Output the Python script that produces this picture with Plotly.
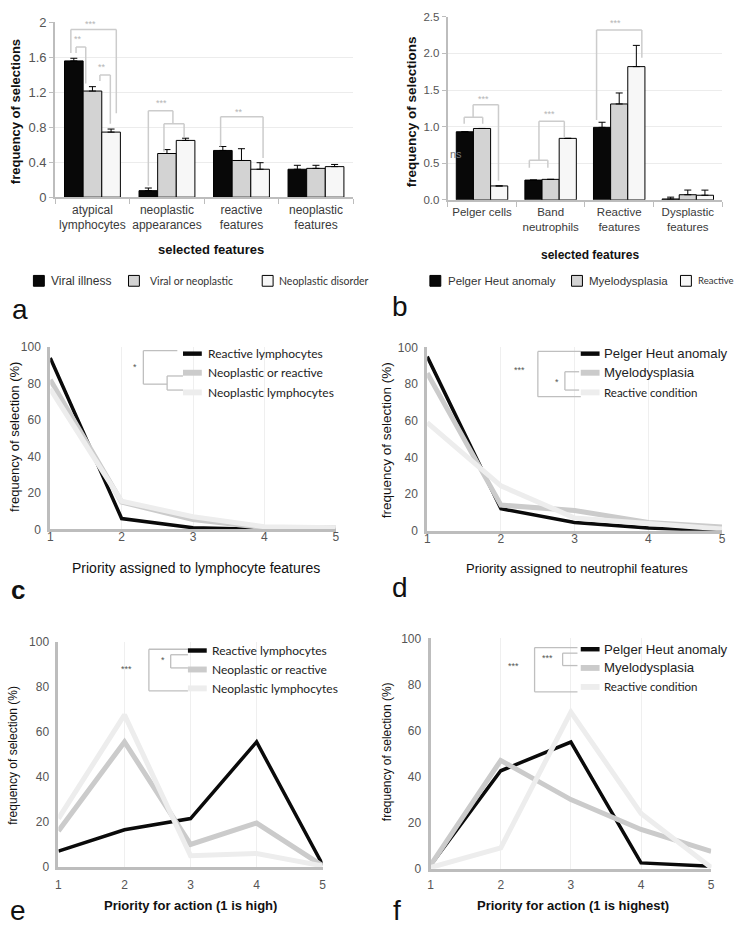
import plotly.graph_objects as go

W, H = 735, 935


def X(p):
    return p / W


def Y(p):
    return 1 - p / H


# ---------------- data ----------------
lym_categories = ["atypical<br>lymphocytes", "neoplastic<br>appearances", "reactive<br>features", "neoplastic<br>features"]
lym_groups = ["Viral illness", "Viral or neoplastic", "Neoplastic disorder"]
a_viral = [1.56, 0.075, 0.535, 0.32]
a_viral_or_neo = [1.215, 0.50, 0.42, 0.33]
a_neoplastic = [0.745, 0.65, 0.32, 0.35]
a_viral_err = [0.03, 0.03, 0.045, 0.045]
a_viral_or_neo_err = [0.05, 0.045, 0.135, 0.035]
a_neoplastic_err = [0.035, 0.025, 0.075, 0.025]
a_yticks = [0, 0.4, 0.8, 1.2, 1.6, 2]

neu_categories = ["Pelger cells", "Band<br>neutrophils", "Reactive<br>features", "Dysplastic<br>features"]
neu_groups = ["Pelger Heut anomaly", "Myelodysplasia", "Reactive"]
b_pelger = [0.93, 0.27, 0.99, 0.012]
b_myelo = [0.975, 0.28, 1.31, 0.07]
b_reactive = [0.19, 0.84, 1.82, 0.063]
b_pelger_err = [None, None, 0.07, 0.025]
b_myelo_err = [None, None, 0.15, 0.064]
b_reactive_err = [None, None, 0.29, 0.07]
b_yticks = [0, 0.5, 1.0, 1.5, 2.0, 2.5]

priority = [1, 2, 3, 4, 5]
lym_line_groups = ["Reactive lymphocytes", "Neoplastic or reactive", "Neoplastic lymphocytes"]
c_reactive = [94, 6, 1, 0, 0]
c_neo_or_reactive = [82, 15, 5.5, 1, 1]
c_neoplastic = [77, 15.5, 7, 1.5, 1]

neu_line_groups = ["Pelger Heut anomaly", "Myelodysplasia", "Reactive condition"]
d_pelger = [95, 12, 4.5, 1.5, 0]
d_myelo = [86, 14, 11, 4.5, 2]
d_reactive = [59, 24.5, 7, 4, 1]

e_reactive = [7, 16.5, 21.5, 55.5, 1]
e_neo_or_reactive = [16, 55.5, 10, 19.5, 0.5]
e_neoplastic = [21.5, 67.5, 5, 6, 0.5]

f_pelger = [1.5, 42.5, 55, 2.5, 1]
f_myelo = [1.5, 47, 30, 17, 7.5]
f_reactive = [0.5, 9, 68, 24, 0.5]

# ---------------- styles ----------------
HELV = "Liberation Sans, Arial, sans-serif"
CALI = "Lato, Liberation Sans, sans-serif"
BAR_COLORS = ["#080808", "#d3d3d3", "#f7f7f7"]
LINE_COLORS = ["#0a0a0a", "#cbcbcb", "#ededed"]
LINE_WIDTHS = [3.5, 5, 5]
AXIS_GREY = "#bdbdbd"
BRACKET = "#cccccc"

fig = go.Figure()


# ---------------- bar panels ----------------
def add_bars(values, errs, names, cats, xa, ya):
    for vals, err, name, col in zip(values, errs, names, BAR_COLORS):
        fig.add_trace(go.Bar(
            x=cats, y=vals, name=name, xaxis=xa, yaxis=ya, showlegend=False,
            marker=dict(color=col, line=dict(color="#000", width=1)),
            error_y=dict(type="data", array=err, symmetric=False,
                         arrayminus=[0] * len(vals), color="#000",
                         thickness=1, width=3.5),
        ))


add_bars([a_viral, a_viral_or_neo, a_neoplastic],
         [a_viral_err, a_viral_or_neo_err, a_neoplastic_err],
         lym_groups, lym_categories, "x", "y")
add_bars([b_pelger, b_myelo, b_reactive],
         [b_pelger_err, b_myelo_err, b_reactive_err],
         neu_groups, neu_categories, "x2", "y2")


# ---------------- line panels ----------------
def add_lines(series, names, xa, ya):
    for vals, name, col, w in zip(series, names, LINE_COLORS, LINE_WIDTHS):
        fig.add_trace(go.Scatter(
            x=priority, y=vals, name=name, mode="lines", xaxis=xa, yaxis=ya,
            showlegend=False, line=dict(color=col, width=w),
        ))


add_lines([c_reactive, c_neo_or_reactive, c_neoplastic], lym_line_groups, "x3", "y3")
add_lines([d_pelger, d_myelo, d_reactive], neu_line_groups, "x4", "y4")
add_lines([e_reactive, e_neo_or_reactive, e_neoplastic], lym_line_groups, "x5", "y5")
add_lines([f_pelger, f_myelo, f_reactive], neu_line_groups, "x6", "y6")


# ---------------- axes ----------------
def bar_xaxis(l, r, anchor, size, n):
    return dict(domain=[X(l), X(r)], anchor=anchor, type="category",
                range=[-0.5, n - 0.5], tickangle=0,
                showline=True, linecolor=AXIS_GREY, linewidth=2,
                ticks="outside", tickson="boundaries", ticklen=5, tickcolor=AXIS_GREY,
                showgrid=False, zeroline=False,
                tickfont=dict(family=HELV, size=size, color="#3a3a3a"))


def bar_yaxis(b, t, anchor, rng, vals, fmt, size):
    return dict(domain=[Y(b), Y(t)], anchor=anchor, range=rng,
                tickvals=vals, tickformat=fmt,
                showline=True, linecolor=AXIS_GREY, linewidth=2,
                ticks="outside", ticklen=4, tickcolor=AXIS_GREY,
                showgrid=True, gridcolor="#ececec", gridwidth=1, zeroline=False,
                tickfont=dict(family=HELV, size=size, color="#555"))


def line_xaxis(l, r, anchor, standoff):
    return dict(domain=[X(l), X(r)], anchor=anchor, range=[1, 5], tick0=1, dtick=1,
                showline=True, linecolor=AXIS_GREY, linewidth=3, ticks="",
                showgrid=True, gridcolor="#efefef", gridwidth=1, zeroline=False,
                ticklabelstandoff=standoff,
                tickfont=dict(family=HELV, size=12, color="#555"))


def line_yaxis(b, t, anchor):
    return dict(domain=[Y(b), Y(t)], anchor=anchor, range=[0, 100], dtick=20,
                showline=True, linecolor=AXIS_GREY, linewidth=3, ticks="",
                showgrid=False, zeroline=False, ticklabelstandoff=4,
                tickfont=dict(family=HELV, size=12, color="#555"))


fig.update_layout(
    width=W, height=H, margin=dict(l=0, r=0, t=0, b=0),
    paper_bgcolor="white", plot_bgcolor="rgba(0,0,0,0)",
    barmode="group", bargap=0.25, bargroupgap=0,
    showlegend=False,
    xaxis=bar_xaxis(52.7, 353.6, "y", 12, len(lym_categories)),
    yaxis=bar_yaxis(193.3, 15.7, "x", [0, 2], a_yticks, "", 13),
    xaxis2=bar_xaxis(449, 726, "y2", 11.5, len(neu_categories)),
    yaxis2=bar_yaxis(196, 10, "x2", [0, 2.5], b_yticks, ".1f", 11.5),
    xaxis3=line_xaxis(47.7, 336, "y3", -6),
    yaxis3=line_yaxis(531, 345.5, "x3"),
    xaxis4=line_xaxis(428.3, 726, "y4", -5),
    yaxis4=line_yaxis(532.3, 346, "x4"),
    xaxis5=line_xaxis(56, 322.7, "y5", 5),
    yaxis5=line_yaxis(874, 645, "x5"),
    xaxis6=line_xaxis(431.7, 715, "y6", 3),
    yaxis6=line_yaxis(875.7, 641.7, "x6"),
)

shapes = []
annos = []


def seg_data(xa, ya, pts, color=BRACKET, width=1.5):
    for (x0, y0), (x1, y1) in zip(pts[:-1], pts[1:]):
        shapes.append(dict(type="line", xref=xa, yref=ya, x0=x0, y0=y0, x1=x1, y1=y1,
                           line=dict(color=color, width=width)))


def seg_px(pts, color="#bfbfbf", width=1.3):
    for (x0, y0), (x1, y1) in zip(pts[:-1], pts[1:]):
        shapes.append(dict(type="line", xref="paper", yref="paper",
                           x0=X(x0), y0=Y(y0), x1=X(x1), y1=Y(y1),
                           line=dict(color=color, width=width)))


def text_data(xa, ya, x, y, t, size=9, color="#b5b5b5", xanchor="center"):
    annos.append(dict(xref=xa, yref=ya, x=x, y=y, text=t, showarrow=False,
                      xanchor=xanchor, yanchor="middle",
                      font=dict(family=HELV, size=size, color=color)))


def text_px(x, y, t, size=12, color="#222", family=HELV, xanchor="left",
            bold=False, angle=0):
    annos.append(dict(xref="paper", yref="paper", x=X(x), y=Y(y),
                      text=("<b>%s</b>" % t) if bold else t, showarrow=False,
                      xanchor=xanchor, yanchor="middle", textangle=angle,
                      font=dict(family=family, size=size, color=color)))


# ---- panel a brackets ----
seg_data("x", "y", [(-0.29, 1.65), (-0.29, 1.92), (0.32, 1.92), (0.32, 0.96)])
text_data("x", "y", -0.03, 1.985, "***")
seg_data("x", "y", [(-0.22, 1.65), (-0.22, 1.72), (-0.09, 1.72), (-0.09, 1.30)])
text_data("x", "y", -0.19, 1.81, "**")
seg_data("x", "y", [(0.10, 1.33), (0.10, 1.40), (0.24, 1.40), (0.24, 0.84)])
text_data("x", "y", 0.13, 1.49, "**")
seg_data("x", "y", [(0.75, 0.13), (0.75, 0.99), (1.08, 0.99), (1.08, 0.84)])
seg_data("x", "y", [(0.96, 0.52), (0.96, 0.84), (1.23, 0.84), (1.23, 0.69)])
text_data("x", "y", 0.93, 1.08, "***")
seg_data("x", "y", [(1.72, 0.58), (1.72, 0.92), (2.29, 0.92), (2.29, 0.45)])
text_data("x", "y", 1.97, 0.98, "**")

# ---- panel b brackets ----
seg_data("x2", "y2", [(-0.26, 1.04), (-0.26, 1.13), (0.01, 1.13), (0.01, 1.04)])
seg_data("x2", "y2", [(-0.13, 1.13), (-0.13, 1.30), (0.24, 1.30), (0.24, 0.26)])
text_data("x2", "y2", 0.02, 1.38, "***")
seg_data("x2", "y2", [(0.69, 0.44), (0.69, 0.54), (0.96, 0.54), (0.96, 0.44)])
seg_data("x2", "y2", [(0.83, 0.54), (0.83, 1.075), (1.20, 1.075), (1.20, 0.85)])
text_data("x2", "y2", 0.98, 1.17, "***")
seg_data("x2", "y2", [(1.67, 1.09), (1.67, 2.32), (2.33, 2.32), (2.33, 1.94)])
text_data("x2", "y2", 1.95, 2.42, "***")
text_data("x2", "y2", -0.49, 0.63, "ns", size=11, color="#777", xanchor="left")


# ---- bar legends ----
def bar_legend(items, y):
    for (sx, tx, name, col, fam, size) in items:
        shapes.append(dict(type="rect", xref="paper", yref="paper",
                           x0=X(sx), x1=X(sx + 11), y0=Y(y + 5.5), y1=Y(y - 5.5),
                           fillcolor=col, line=dict(color="#000", width=1)))
        text_px(tx, y, name, size=size, color="#333", family=fam)


bar_legend([(30.7, 46.7, lym_groups[0], BAR_COLORS[0], HELV, 12),
            (126.7, 146, lym_groups[1], BAR_COLORS[1], CALI, 10.5),
            (261.7, 276.7, lym_groups[2], BAR_COLORS[2], CALI, 10.5)], 278.3)
bar_legend([(431, 447.3, neu_groups[0], BAR_COLORS[0], HELV, 11.5),
            (574, 590, neu_groups[1], BAR_COLORS[1], HELV, 11.5),
            (684, 700, neu_groups[2], BAR_COLORS[2], CALI, 9.5)], 278.3)

# ---- bar axis titles ----
text_px(13.3, 106.7, "frequency of selections", size=13, color="#111", xanchor="center", bold=True, angle=-90)
text_px(210, 246.7, "selected features", size=13, color="#111", xanchor="center", bold=True)
text_px(413.3, 106.7, "frequency of selections", size=13.5, color="#111", xanchor="center", bold=True, angle=-90)
text_px(592.7, 251.7, "selected features", size=12, color="#111", xanchor="center", bold=True)


# ---- line legends + brackets ----
def line_legend(sx, tx, ys, names, fams, sizes):
    heights = [4.5, 6, 6]
    for y, name, col, h, fam, size in zip(ys, names, LINE_COLORS, heights, fams, sizes):
        shapes.append(dict(type="rect", xref="paper", yref="paper",
                           x0=X(sx), x1=X(sx + 19), y0=Y(y + h / 2), y1=Y(y - h / 2),
                           fillcolor=col, line=dict(width=0)))
        text_px(tx, y, name, size=size, color="#222", family=fam)


# c
seg_px([(176, 349.3), (141.7, 349.3), (141.7, 383.3), (165.7, 383.3)])
seg_px([(181.7, 375), (165.7, 375), (165.7, 389.3), (181.7, 389.3)])
text_px(133.3, 366, "*", size=9, color="#555", xanchor="center")
line_legend(181.7, 205, [352.3, 371.7, 391.7], lym_line_groups, [CALI] * 3, [12, 12, 12])
# d
seg_px([(583.3, 350), (540, 350), (540, 396), (583.3, 396)])
seg_px([(581.7, 370.7), (567.3, 370.7), (567.3, 389.3), (581.7, 389.3)])
text_px(521.7, 369.3, "***", size=9, color="#555", xanchor="center")
text_px(559, 380.7, "*", size=9, color="#555", xanchor="center")
line_legend(583.3, 605, [352.3, 371.7, 391.7], neu_line_groups, [HELV, HELV, CALI], [13.2, 13.2, 11.5])
# e
seg_px([(186.7, 652.7), (147.3, 652.7), (147.3, 695), (186.7, 695)])
seg_px([(186.7, 658.3), (169.3, 658.3), (169.3, 671.7), (186.7, 671.7)])
text_px(125, 672.3, "***", size=9, color="#555", xanchor="center")
text_px(161.7, 664, "*", size=9, color="#555", xanchor="center")
line_legend(186.7, 209, [654, 673.3, 692.5], lym_line_groups, [CALI] * 3, [12, 12, 12])
# f
seg_px([(580, 651), (536.7, 651), (536.7, 696), (580, 696)])
seg_px([(580, 656.7), (565, 656.7), (565, 669.3), (580, 669.3)])
text_px(515.7, 670, "***", size=9, color="#555", xanchor="center")
text_px(549.3, 661.7, "***", size=9, color="#555", xanchor="center")
line_legend(583.3, 605, [652.7, 671.7, 691], neu_line_groups, [HELV, HELV, CALI], [13.2, 13.2, 11.5])

# ---- line axis titles ----
text_px(12, 437, "frequency of selection (%)", size=13, color="#111", xanchor="center", angle=-90)
text_px(195, 570, "Priority assigned to lymphocyte features", size=14, color="#111", xanchor="center")
text_px(388, 440, "frequency of selection (%)", size=13.5, color="#111", xanchor="center", angle=-90)
text_px(580, 570.7, "Priority assigned to neutrophil features", size=13, color="#111", xanchor="center")
text_px(10, 760, "frequency of selection (%)", size=12, color="#111", xanchor="center", angle=-90)
text_px(189, 913, "Priority for action (1 is high)", size=13, color="#111", xanchor="center", bold=True)
text_px(388, 757, "frequency of selection (%)", size=12, color="#111", xanchor="center", angle=-90)
text_px(575, 913, "Priority for action (1 is highest)", size=13, color="#111", xanchor="center", bold=True)

# ---- panel letters ----
for (px, py, letter, bold) in [(17, 307, "a", False), (401, 304, "b", False),
                               (15, 592, "c", True), (401, 590, "d", False),
                               (15, 918, "e", False), (398, 918, "f", False)]:
    text_px(px, py, letter, size=28 if not bold else 26, color="#111",
            xanchor="center", bold=bold)

fig.update_layout(shapes=shapes, annotations=annos)
fig.write_html(
    "out.html",
    config={"staticPlot": True, "displayModeBar": False},
    post_script=("document.body.style.margin='0';"
                 "document.body.style.overflow='hidden';"
                 "document.documentElement.style.overflow='hidden';"),
)
